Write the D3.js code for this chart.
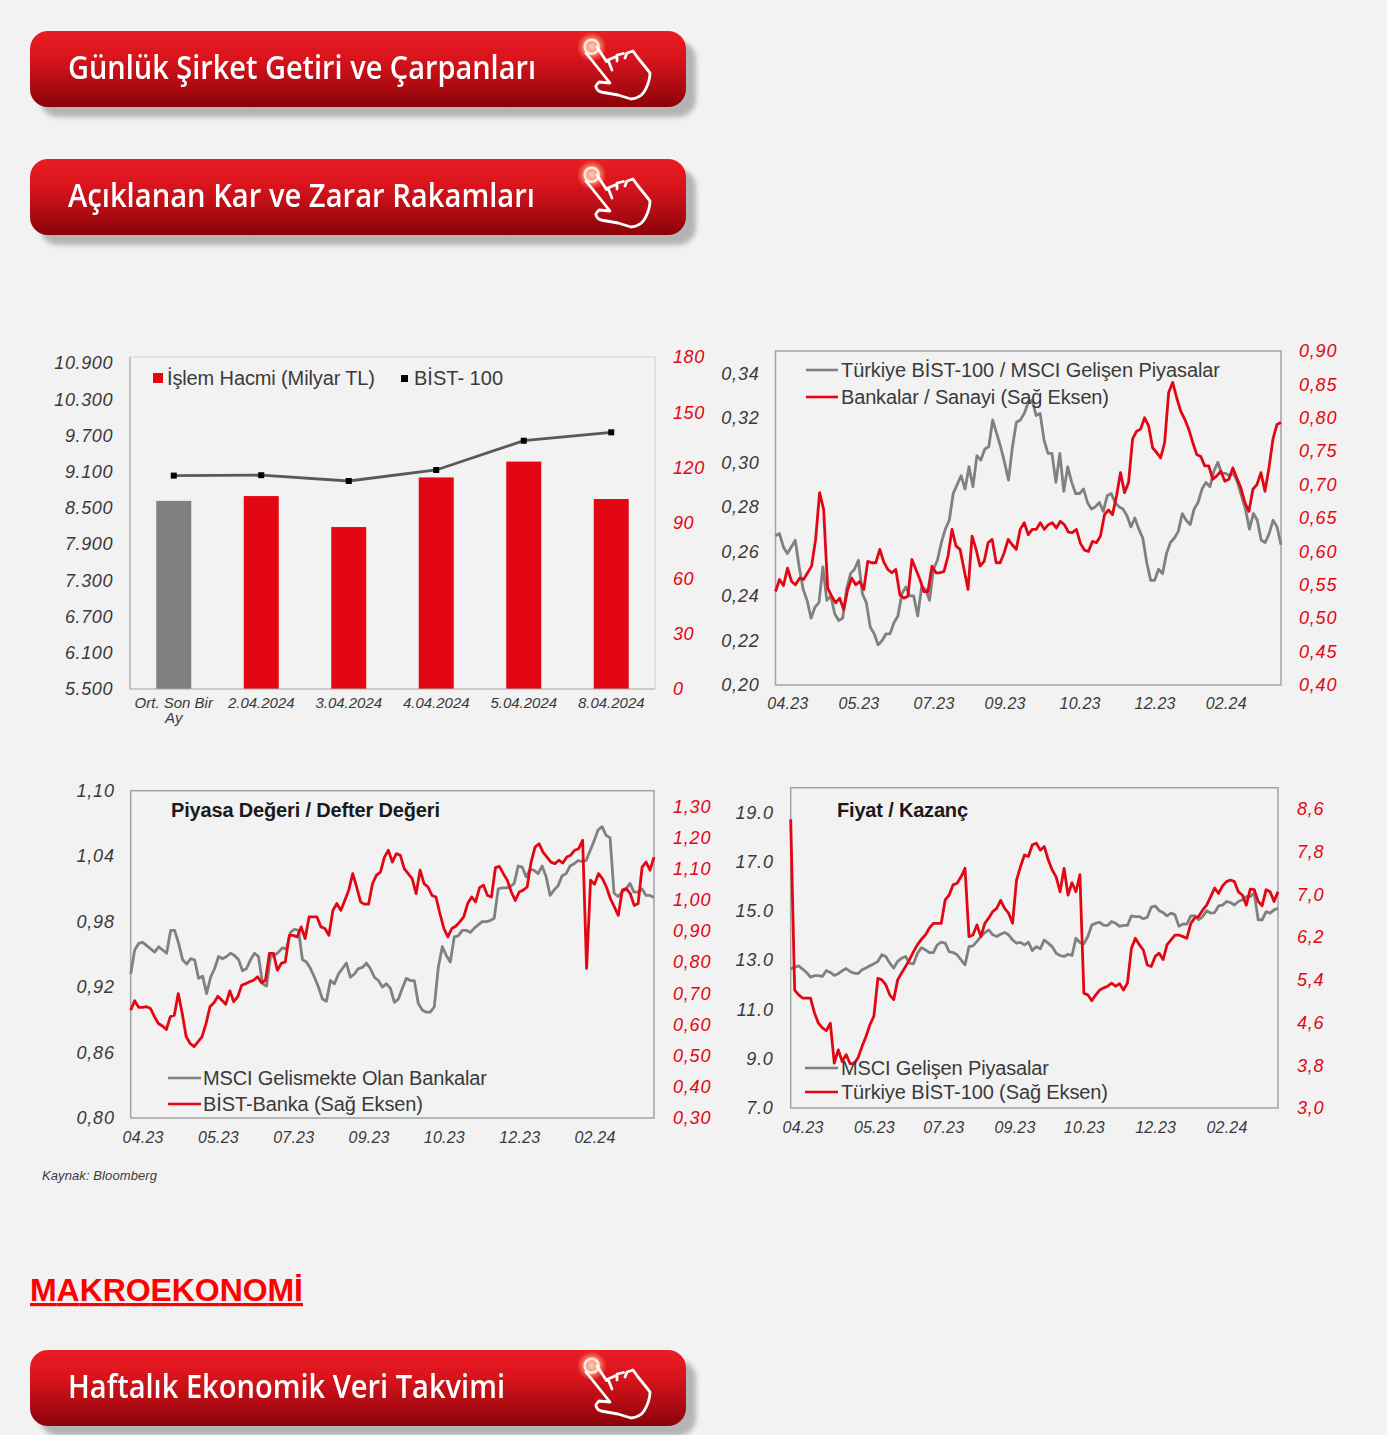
<!DOCTYPE html>
<html><head><meta charset="utf-8">
<script src="https://cdn.jsdelivr.net/npm/d3@7/dist/d3.min.js"></script>
<style>
html,body{margin:0;padding:0;background:#f2f2f2;}
svg{display:block;}
text{font-family:"Liberation Sans",Arial,sans-serif;}
</style></head><body><div id="c"></div>
<script>
const buttonLabels=["Günlük Şirket Getiri ve Çarpanları","Açıklanan Kar ve Zarar Rakamları","Haftalık Ekonomik Veri Takvimi"];
// Chart 1
const volCats=["Ort. Son Bir|Ay","2.04.2024","3.04.2024","4.04.2024","5.04.2024","8.04.2024"];
const volValues=[102,104.6,87.8,114.7,123.3,103];
const bistValues=[9035,9042,8946,9128,9613,9752];
const volTicks=[0,30,60,90,120,150,180];
const bistTicks=[5500,6100,6700,7300,7900,8500,9100,9700,10300,10900];
// Chart 2
const monthLabels=["04.23","05.23","07.23","09.23","10.23","12.23","02.24"];
const c2Gray=[.267,.268,.262,.259,.262,.265,.253,.243,.238,.230,.235,.237,.253,.238,.240,.232,.229,.230,.243,.250,.252,.256,.241,.237,.226,.223,.218,.220,.223,.223,.228,.231,.241,.244,.240,.240,.231,.244,.243,.238,.252,.256,.264,.270,.274,.286,.290,.294,.288,.298,.289,.303,.301,.306,.307,.319,.313,.307,.300,.292,.307,.318,.319,.322,.327,.328,.321,.322,
.310,.304,.304,.291,.304,.287,.298,.291,.286,.286,.288,.282,.279,.280,.282,.278,.285,.286,.282,.280,.279,.276,.271,.275,.270,.266,.255,.247,.247,.252,.250,.259,.264,.266,.269,.277,.274,.272,.279,.282,.288,.291,.289,.296,.300,.295,.295,.294,.295,.291,.285,.279,.270,.277,.274,.265,.264,.268,.274,.271,.263];
const c2Red=[.540,.558,.549,.575,.555,.550,.560,.558,.568,.578,.618,.688,.663,.545,.533,.523,.530,.513,.543,.560,.550,.555,.543,.585,.583,.583,.603,.584,.573,.568,.573,.535,.530,.533,.588,.573,.558,.540,.540,.578,.568,.568,.570,.593,.633,.608,.603,.573,.543,.623,.603,.578,.585,.613,.618,.583,.583,.598,.618,.610,.603,.633,.643,.625,.633,.633,
.643,.633,.640,.643,.635,.645,.640,.629,.628,.633,.612,.602,.600,.615,.613,.623,.655,.662,.655,.683,.718,.688,.703,.768,.780,.783,.800,.788,.755,.748,.740,.763,.838,.853,.830,.810,.798,.783,.763,.745,.742,.728,.728,.708,.713,.720,.705,.708,.725,.710,.695,.673,.660,.693,.700,.718,.690,.725,.768,.790,.793];
const c2LeftTicks=[.20,.22,.24,.26,.28,.30,.32,.34];
const c2RightTicks=[.40,.45,.50,.55,.60,.65,.70,.75,.80,.85,.90];
// Chart 3
const c3Gray=[.932,.954,.960,.961,.958,.955,.952,.957,.954,.951,.972,.972,.960,.945,.941,.946,.945,.928,.930,.914,.929,.937,.948,.946,.948,.951,.949,.945,.935,.937,.945,.951,.948,.923,.921,.948,.949,.952,.956,.955,.970,.973,.972,.945,.943,.937,.929,.920,.909,.907,.926,.923,.932,.937,.942,.929,.932,.937,.938,.942,.937,.929,.926,.920,.923,.919,.906,
.909,.919,.928,.926,.926,.905,.899,.897,.897,.902,.938,.957,.949,.943,.966,.967,.972,.972,.970,.974,.977,.980,.980,.981,.983,1.010,1.011,1.011,1.012,1.015,1.031,1.030,1.021,1.028,1.027,1.024,1.031,1.021,1.004,1.009,1.013,1.022,1.024,1.031,1.033,1.036,1.035,1.036,1.045,1.054,1.064,1.067,1.059,1.057,1.006,1.003,1.007,1.010,1.015,1.007,1.007,1.010,1.004,1.004,1.002];
const c3Red=[.646,.676,.655,.655,.657,.651,.625,.603,.595,.584,.625,.630,.699,.635,.561,.539,.529,.545,.561,.603,.657,.670,.691,.678,.665,.708,.673,.689,.726,.731,.737,.742,.753,.734,.742,.828,.828,.774,.796,.801,.886,.886,.881,.913,.876,.945,.945,.945,.913,.908,.886,.966,.988,.966,.998,1.031,1.084,1.041,.993,.986,.986,1.052,1.079,1.089,1.137,1.159,1.121,1.148,
1.143,1.100,1.084,1.068,1.020,1.095,1.052,1.041,1.014,1.009,.956,.908,.881,.908,.915,.929,.945,.988,1.009,.993,1.039,1.047,1.014,1.009,1.103,1.107,1.084,1.063,1.025,.998,1.025,1.031,1.041,1.121,1.169,1.180,1.153,1.137,1.121,1.116,1.127,1.118,1.137,1.143,1.159,1.164,1.191,.780,1.063,1.050,1.084,1.068,1.041,1.004,.977,.950,1.031,1.036,1.020,.982,.988,1.105,1.121,1.095,1.137];
const c3LeftTicks=[.80,.86,.92,.98,1.04,1.10];
const c3RightTicks=[.30,.40,.50,.60,.70,.80,.90,1.00,1.10,1.20,1.30];
// Chart 4
const c4Gray=[12.64,12.72,12.77,12.64,12.50,12.31,12.37,12.37,12.34,12.58,12.50,12.38,12.45,12.57,12.66,12.54,12.47,12.45,12.61,12.68,12.77,12.85,12.95,13.22,13.15,12.88,12.68,12.95,13.08,13.15,12.88,12.85,13.28,13.51,13.42,13.31,13.31,13.62,13.73,13.69,13.35,13.31,13.22,13.01,12.81,13.55,13.58,13.76,13.96,14.12,14.23,14.03,13.96,14.05,14.12,14.03,13.82,13.69,13.72,13.62,13.73,13.39,13.55,
13.46,13.82,13.69,13.55,13.28,13.19,13.15,13.24,13.19,13.89,13.72,13.66,13.96,14.43,14.50,14.53,14.41,14.41,14.57,14.50,14.37,14.41,14.41,14.80,14.77,14.77,14.68,14.74,15.15,15.20,15.01,14.93,14.80,14.91,14.84,14.37,14.47,14.46,14.80,14.80,14.64,14.77,15.01,14.91,14.93,15.20,15.23,15.38,15.34,15.24,15.38,15.45,15.58,15.58,15.72,14.64,14.64,14.97,14.91,15.04,15.11];
const c4Red=[8.41,5.21,5.12,5.06,5.06,5.06,4.78,4.59,4.50,4.45,4.59,3.84,4.09,3.87,4.00,3.83,3.83,3.94,4.15,4.34,4.56,4.72,5.43,5.40,5.31,5.12,5.03,5.40,5.53,5.65,5.78,5.93,6.06,6.16,6.24,6.37,6.46,6.46,6.46,6.90,6.99,7.18,7.21,7.33,7.49,6.21,6.24,6.43,6.21,6.46,6.56,6.68,6.74,6.89,6.74,6.65,6.46,7.27,7.52,7.74,7.71,7.93,7.96,7.83,
7.90,7.65,7.46,7.33,7.05,7.49,6.99,7.22,7.05,7.37,5.15,5.12,5.01,5.12,5.21,5.25,5.28,5.34,5.28,5.33,5.21,5.34,5.99,6.18,6.06,5.96,5.68,5.65,5.84,5.90,5.78,6.06,6.15,6.24,6.24,6.21,6.18,6.46,6.56,6.59,6.71,6.80,6.96,7.12,7.02,7.16,7.24,7.27,7.24,7.05,6.99,6.80,7.10,7.09,6.87,6.79,7.09,7.05,6.87,7.05];
const c4LeftTicks=[7,9,11,13,15,17,19];
const c4RightTicks=[3.0,3.8,4.6,5.4,6.2,7.0,7.8,8.6];

const GRAY="#808080",RED="#e30613",TXT="#3a3a3a",BORDER="#a3a3a3";
const svg=d3.select("#c").append("svg").attr("width",1387).attr("height",1435);
const defs=svg.append("defs");
const g=defs.append("linearGradient").attr("id","btn").attr("x1",0).attr("x2",0).attr("y1",0).attr("y2",1);
[[0,"#ea1d25"],[.35,"#d9141c"],[.75,"#ab0a12"],[1,"#8a0208"]].forEach(s=>g.append("stop").attr("offset",s[0]).attr("stop-color",s[1]));
defs.append("filter").attr("id","sh").attr("x","-5%").attr("y","-20%").attr("width","110%").attr("height","140%").append("feGaussianBlur").attr("stdDeviation",2.5);
defs.append("filter").attr("id","soft").append("feGaussianBlur").attr("stdDeviation",.5);
const rg=defs.append("radialGradient").attr("id","glow");
[[0,"#ffd9c0",.95],[.55,"#ffb08a",.7],[1,"#ff7a5a",0]].forEach(s=>rg.append("stop").attr("offset",s[0]).attr("stop-color",s[1]).attr("stop-opacity",s[2]));

const handPath="M26,33 L50,63 L39,62 Q35,66 36,67 Q37,71 41,72 L58,75 L71,79 Q80,78 84,72 Q90,62 90,53 Q87,49 78,38 L73,31 L67,33 L65,38 M63.5,33.5 L57,35 L57,41 M55,37 L48,40 L52,50 M46.5,41.5 L37,27";
function button(y,label,w){
  const b=svg.append("g").attr("transform",`translate(30,${y})`);
  b.append("rect").attr("x",10).attr("y",10).attr("width",656).attr("height",76).attr("rx",18).attr("fill","#b4b4b4").attr("filter","url(#sh)");
  b.append("rect").attr("width",656).attr("height",76).attr("rx",18).attr("fill","url(#btn)");
  b.append("text").attr("x",38).attr("y",48).attr("fill","#fff").attr("font-size",32).attr("font-weight",600).style("font-family","'Open Sans',sans-serif").attr("textLength",w).attr("lengthAdjust","spacingAndGlyphs").attr("filter","url(#soft)").text(label);
  const h=b.append("g").attr("transform","translate(530,-11)").attr("filter","url(#soft)");
  h.append("circle").attr("cx",31.7).attr("cy",26.7).attr("r",15).attr("fill","url(#glow)");
  h.append("circle").attr("cx",31.7).attr("cy",26.7).attr("r",7).attr("fill","none").attr("stroke","#ffe9dd").attr("stroke-width",2.6);
  h.append("path").attr("d",handPath).attr("fill","none").attr("stroke","#fff").attr("stroke-width",2.8).attr("stroke-linejoin","round").attr("stroke-linecap","round");
}
button(31,buttonLabels[0],468);
button(159,buttonLabels[1],467);
button(1350,buttonLabels[2],437);

function styleTicks(sel,color,size,ls){
  sel.select(".domain").remove();
  sel.selectAll("text").attr("fill",color).attr("font-size",size).attr("font-style","italic").style("letter-spacing",ls+"px").style("font-family","'Liberation Sans',Arial,sans-serif");
}
function yAxes(c,yL,yR,lt,rt,x0,x1,fl,fr,pl,pr,size,ls){
  const a=c.append("g").attr("transform",`translate(${x0},0)`).call(d3.axisLeft(yL).tickValues(lt).tickSize(0).tickPadding(pl).tickFormat(fl));
  styleTicks(a,TXT,size,ls);
  const b=c.append("g").attr("transform",`translate(${x1},0)`).call(d3.axisRight(yR).tickValues(rt).tickSize(0).tickPadding(pr).tickFormat(fr));
  styleTicks(b,RED,size,ls);
}
const comma=(f)=>(v)=>d3.format(f)(v).replace(".",",");
const thousands=v=>d3.format(",")(v).replace(",",".");

// Chart 1
(function(){
  const x0=130,x1=655,t=357,b=689;
  const c=svg.append("g");
  const x=d3.scaleBand().domain(volCats).range([x0,x1]);
  const yL=d3.scaleLinear().domain([5500,11000]).range([b,t]);
  const yR=d3.scaleLinear().domain([0,180]).range([b,t]);
  c.append("path").attr("d",`M${x0},${t}H${x1}V${b}`).attr("fill","none").attr("stroke","#d4d4d4").attr("stroke-width",1.2);
  c.selectAll("rect.bar").data(volCats).join("rect").attr("class","bar").attr("x",d=>x(d)+x.bandwidth()/2-17.5).attr("width",35)
    .attr("y",(d,i)=>yR(volValues[i])).attr("height",(d,i)=>b-yR(volValues[i])).attr("fill",(d,i)=>i==0?GRAY:RED);
  c.append("path").attr("d",`M${x0},${t}V${b}H${x1}`).attr("fill","none").attr("stroke",BORDER).attr("stroke-width",1.2);
  const line=d3.line().x((d,i)=>x(volCats[i])+x.bandwidth()/2).y(d=>yL(d));
  c.append("path").attr("d",line(bistValues)).attr("fill","none").attr("stroke","#595959").attr("stroke-width",2.8);
  c.selectAll("rect.pt").data(bistValues).join("rect").attr("class","pt").attr("x",(d,i)=>x(volCats[i])+x.bandwidth()/2-3).attr("y",d=>yL(d)-3).attr("width",6).attr("height",6).attr("fill","#000");
  yAxes(c,yL,yR,bistTicks,volTicks,x0,x1,thousands,d3.format("d"),17,18,18,.6);
  const ax=c.append("g").attr("transform",`translate(0,${b})`).call(d3.axisBottom(x).tickSize(0).tickFormat(""));
  ax.select(".domain").remove();
  volCats.forEach(d=>{
    d.split("|").forEach((s,i)=>c.append("text").attr("x",x(d)+x.bandwidth()/2).attr("y",708+i*15).attr("text-anchor","middle").attr("fill",TXT).attr("font-size",15).attr("font-style","italic").text(s));
  });
  c.append("rect").attr("x",153).attr("y",373).attr("width",10).attr("height",10).attr("fill",RED);
  c.append("text").attr("x",167).attr("y",385).attr("font-size",20).attr("fill",TXT).attr("textLength",208).text("İşlem Hacmi (Milyar TL)");
  c.append("rect").attr("x",401).attr("y",375).attr("width",7).attr("height",7).attr("fill","#000");
  c.append("text").attr("x",414).attr("y",385).attr("font-size",20).attr("fill",TXT).attr("textLength",89).text("BİST- 100");
})();

function lineChart(o){
  const c=svg.append("g");
  const N=Math.max(o.gray.length,o.red.length);
  const x=d3.scaleLinear().domain([0,N-1]).range([o.x0,o.x1]);
  const yL=d3.scaleLinear().domain(o.ld).range([o.b,o.t]);
  const yR=d3.scaleLinear().domain(o.rd).range([o.b,o.t]);
  const path=(arr,y)=>d3.line().x((d,i)=>x(i*(N-1)/(arr.length-1))).y(d=>y(d))(arr);
  c.append("rect").attr("x",o.x0).attr("y",o.t).attr("width",o.x1-o.x0).attr("height",o.b-o.t).attr("fill","none").attr("stroke",BORDER).attr("stroke-width",1.5);
  c.append("path").attr("d",path(o.gray,yL)).attr("fill","none").attr("stroke",GRAY).attr("stroke-width",2.8).attr("stroke-linejoin","round");
  c.append("path").attr("d",path(o.red,yR)).attr("fill","none").attr("stroke",RED).attr("stroke-width",2.8).attr("stroke-linejoin","round");
  yAxes(c,yL,yR,o.lt,o.rt,o.x0,o.x1,o.fl,o.fr,o.pl,o.pr,18,.8);
  const ax=c.append("g").attr("transform",`translate(0,${o.b})`).call(d3.axisBottom(x).tickValues(o.xi).tickSize(0).tickPadding(o.xp).tickFormat((d,i)=>monthLabels[i]));
  styleTicks(ax,TXT,16,.2);
  o.leg.forEach(l=>{
    c.append("line").attr("x1",l.x1).attr("x2",l.x2).attr("y1",l.y).attr("y2",l.y).attr("stroke",l.c).attr("stroke-width",2.6);
    c.append("text").attr("x",l.tx).attr("y",l.y+7).attr("font-size",20).attr("fill",TXT).attr("textLength",l.w).text(l.s);
  });
  if(o.title)c.append("text").attr("x",o.title.x).attr("y",o.title.y).attr("font-size",20).attr("font-weight",700).attr("fill","#1a1a1a").attr("textLength",o.title.w).text(o.title.s);
}
lineChart({x0:775.5,x1:1281,t:351,b:685,ld:[.20,.35],rd:[.40,.90],gray:c2Gray,red:c2Red,lt:c2LeftTicks,rt:c2RightTicks,fl:comma(".2f"),fr:comma(".2f"),pl:16,pr:18,xp:13,xi:[3,21,40,58,77,96,114],
 leg:[{x1:806,x2:838,y:370,c:GRAY,tx:841,w:379,s:"Türkiye BİST-100 / MSCI Gelişen Piyasalar"},{x1:806,x2:838,y:397,c:RED,tx:841,w:268,s:"Bankalar / Sanayi (Sağ Eksen)"}]});
lineChart({x0:130.7,x1:654,t:790.7,b:1118,ld:[.80,1.10],rd:[.30,1.35],gray:c3Gray,red:c3Red,lt:c3LeftTicks,rt:c3RightTicks,fl:comma(".2f"),fr:comma(".2f"),pl:16,pr:19,xp:14,xi:[3,22,41,60,79,98,117],
 title:{x:171,y:817,w:269,s:"Piyasa Değeri / Defter Değeri"},
 leg:[{x1:168,x2:201,y:1078,c:GRAY,tx:203,w:284,s:"MSCI Gelismekte Olan Bankalar"},{x1:168,x2:201,y:1104,c:RED,tx:203,w:220,s:"BİST-Banka (Sağ Eksen)"}]});
lineChart({x0:790.7,x1:1278,t:787.7,b:1108,ld:[7,20],rd:[3,9],gray:c4Gray,red:c4Red,lt:c4LeftTicks,rt:c4RightTicks,fl:d3.format(".1f"),fr:comma(".1f"),pl:17,pr:19,xp:14,xi:[3,21,38.5,56.5,74,92,110],
 title:{x:837,y:817,w:131,s:"Fiyat / Kazanç"},
 leg:[{x1:805,x2:838,y:1068,c:GRAY,tx:841,w:208,s:"MSCI Gelişen Piyasalar"},{x1:805,x2:838,y:1092,c:RED,tx:841,w:267,s:"Türkiye BİST-100 (Sağ Eksen)"}]});

svg.append("text").attr("x",42).attr("y",1180).attr("font-size",13).attr("font-style","italic").attr("fill",TXT).attr("textLength",115).text("Kaynak: Bloomberg");
svg.append("text").attr("x",30).attr("y",1301).attr("font-size",32).attr("font-weight",700).attr("fill","#ff0000").attr("text-decoration","underline").attr("textLength",273).text("MAKROEKONOMİ");
</script></body></html>
